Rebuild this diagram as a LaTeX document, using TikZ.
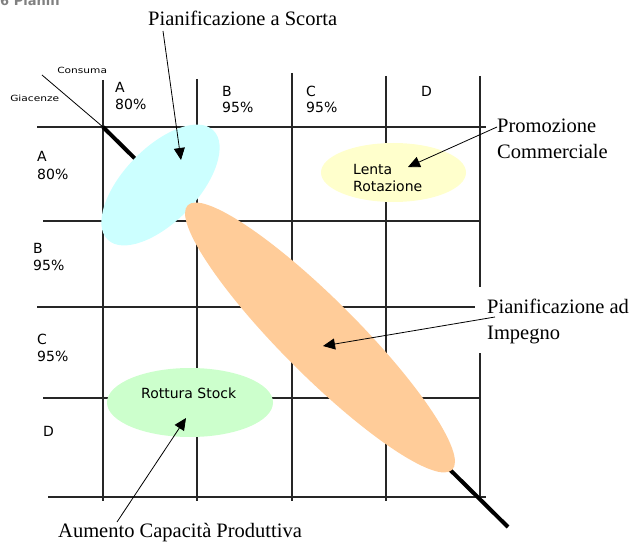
\documentclass[tikz,border=0pt]{standalone}
\usepackage{fontspec}
\setmainfont{Liberation Serif}
\newfontfamily\lsans{DejaVu Sans}
\usetikzlibrary{arrows.meta}
\definecolor{cyanfill}{HTML}{CCFFFF}
\definecolor{orangefill}{HTML}{FFCC99}
\definecolor{yellowfill}{HTML}{FFFFCC}
\definecolor{greenfill}{HTML}{CCFFCC}
\definecolor{gridc}{HTML}{262626}
\begin{document}
\begin{tikzpicture}[x=1pt,y=-1pt,
  gridline/.style={draw=gridc,line width=1.3pt},
  seriflabel/.style={anchor=base west,inner sep=0pt,font=\fontsize{20.5}{26}\selectfont},
  sanslabel/.style={anchor=base west,inner sep=0pt,font=\lsans\fontsize{14}{16}\selectfont},
  tinylabel/.style={anchor=base west,inner sep=0pt,font=\lsans\fontsize{8.5}{9}\selectfont,xscale=1.25,transform shape},
  pointer/.style={draw=black,line width=0.8pt,-{Triangle[length=12pt,width=11pt]}}]
\useasboundingbox (0,0) rectangle (633,543);
% clipped fragment at the top
\node[anchor=base west,inner sep=0pt,font=\lsans\bfseries\fontsize{13}{16}\selectfont,text=gray] (frag) at (0,6) {6 Pianifi};
% grid
\draw[gridline] (37,127) -- (486,127);
\draw[gridline] (43,221) -- (480,221);
\draw[gridline] (37,307) -- (475,307);
\draw[gridline] (43,398) -- (480,398);
\draw[gridline] (48,497) -- (486,497);
\draw[gridline] (103,80) -- (103,501);
\draw[gridline] (197,79) -- (197,501);
\draw[gridline] (292,73) -- (292,501);
\draw[gridline] (386,76) -- (386,501);
\draw[gridline] (480,76) -- (480,501);
% diagonals
\draw[black,line width=0.8pt] (42,75) -- (103,127);
\draw[black,line width=4pt] (103,127) -- (508,527);
% blobs
\fill[cyanfill,rotate around={46:(160.5,185)}] (160.5,185) ellipse [x radius=76pt,y radius=37pt];
\fill[orangefill,rotate around={-45:(320,337.5)}] (320,337.5) ellipse [x radius=187pt,y radius=38pt];
\fill[yellowfill] (393.5,172.5) ellipse [x radius=72.5pt,y radius=29.5pt];
\fill[greenfill] (190,402.5) ellipse [x radius=83pt,y radius=34.5pt];
% axis corner labels
\node[tinylabel] (consuma) at (57,74) {Consuma};
\node[tinylabel] (giacenze) at (10,102) {Giacenze};
% column headers
\node[sanslabel] (hA1) at (115,93) {A};
\node[sanslabel] (hA2) at (115,110) {80\%};
\node[sanslabel] (hB1) at (222,97) {B};
\node[sanslabel] (hB2) at (222,113) {95\%};
\node[sanslabel] (hC1) at (306,97) {C};
\node[sanslabel] (hC2) at (306,113) {95\%};
\node[sanslabel] (hD1) at (421,97) {D};
% row headers
\node[sanslabel] (rA1) at (37,162) {A};
\node[sanslabel] (rA2) at (37,179) {80\%};
\node[sanslabel] (rB1) at (33,253) {B};
\node[sanslabel] (rB2) at (33,270) {95\%};
\node[sanslabel] (rC1) at (37,344) {C};
\node[sanslabel] (rC2) at (37,361) {95\%};
\node[sanslabel] (rD1) at (43,436) {D};
% blob texts
\node[sanslabel] (lenta1) at (353,175) {Lenta};
\node[sanslabel] (lenta2) at (353,191) {Rotazione};
\node[sanslabel] (rottura) at (141,398) {Rottura Stock};
% callout labels
\node[seriflabel] (scorta) at (148,26) {Pianificazione a Scorta};
\node[seriflabel] (promo1) at (497,133) {Promozione};
\node[seriflabel] (promo2) at (497,159) {Commerciale};
\fill[white] (476,287) rectangle (633,353);
\node[seriflabel] (imp1) at (487,313) {Pianificazione ad};
\node[seriflabel] (imp2) at (487,339) {Impegno};
\node[seriflabel] (aumento) at (58,537) {Aumento Capacità Produttiva};
% pointers
\coordinate (sS) at (163,31);
\coordinate (sT) at (181,160);
\coordinate (pS) at (497,127);
\coordinate (pT) at (408,167);
\coordinate (iS) at (495,317);
\coordinate (iT) at (323,346);
\coordinate (aS) at (117,522);
\coordinate (aT) at (186,418);
\draw[pointer] (sS) -- (sT);
\draw[pointer] (pS) -- (pT);
\draw[pointer] (iS) -- (iT);
\draw[pointer] (aS) -- (aT);
\end{tikzpicture}
\end{document}
